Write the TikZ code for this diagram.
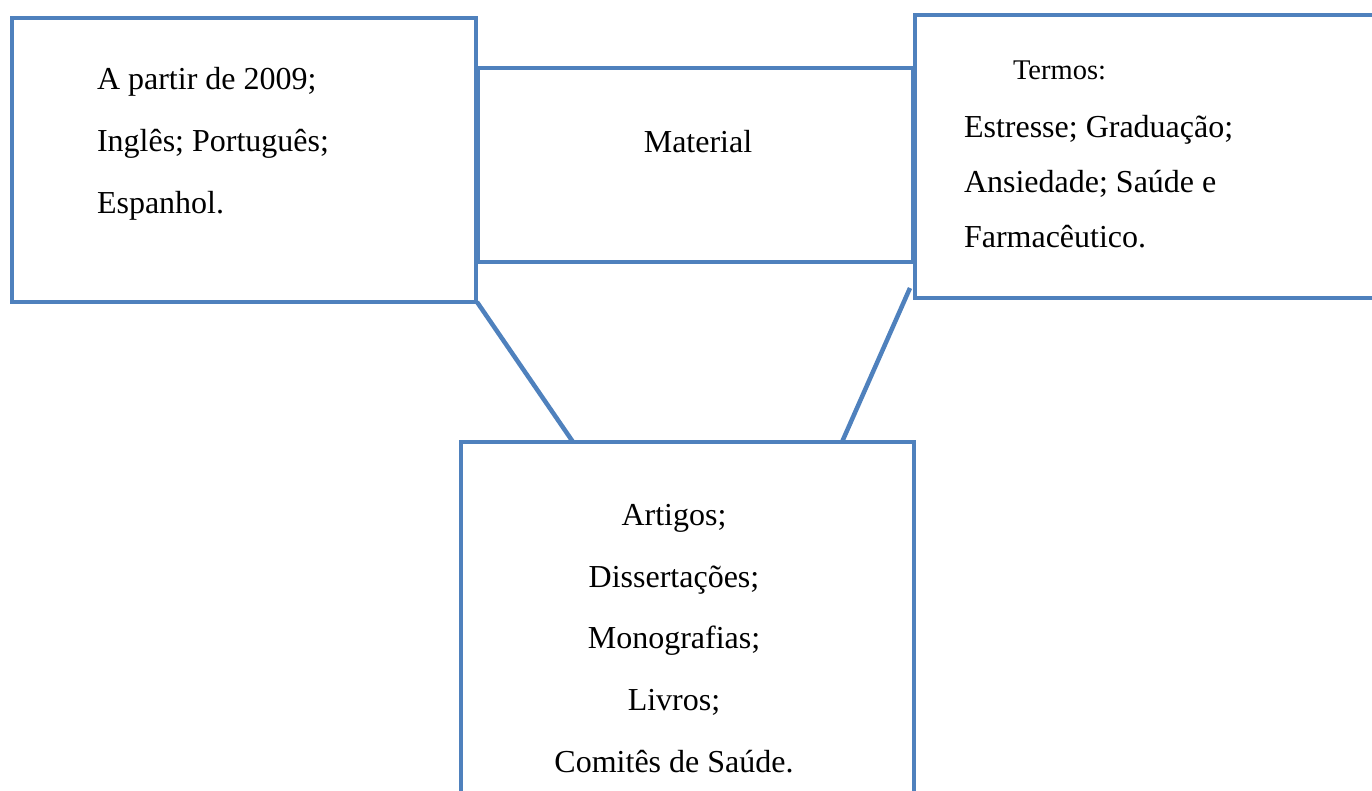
\documentclass[tikz,border=0pt]{standalone}
\usepackage{fontspec}
\setmainfont{Liberation Serif}
\usetikzlibrary{calc}
\definecolor{boxblue}{RGB}{79,129,189}
\begin{document}
\begin{tikzpicture}[x=1pt,y=-1pt,
  box/.style={draw=boxblue, line width=4.5pt, fill=white, rectangle, outer sep=0pt, inner sep=0pt},
  conn/.style={draw=boxblue, line width=4.5pt},
  txt/.style={font=\fontsize{32}{38}\selectfont, inner sep=0pt, outer sep=0pt},
  smalltxt/.style={font=\fontsize{28.5}{34}\selectfont, inner sep=0pt, outer sep=0pt}]
\useasboundingbox (0,0) rectangle (1372,791);
\clip (0,0) rectangle (1372,791);
% boxes
\node[box, minimum width=464pt, minimum height=284pt] (lbox) at (244,160) {};
\node[box, minimum width=435pt, minimum height=194pt] (mbox) at (695.5,165) {};
\node[box, minimum width=475pt, minimum height=283pt] (rbox) at (1152.5,156.5) {};
\node[box, minimum width=453pt, minimum height=378pt] (bbox) at (687.5,631) {};
% connectors
\draw[conn] ($(lbox.south east)+(1,0)$) -- ($(bbox.north west)+(112,0)$);
\draw[conn] ($(rbox.south west)+(-5,-10)$) -- ($(bbox.north west)+(381,0)$);
% left box text
\node[txt, anchor=base west] (l1) at (97,90) {A partir de 2009;};
\node[txt, anchor=base west] (l2) at (97,152) {Inglês; Português;};
\node[txt, anchor=base west] (l3) at (97,214) {Espanhol.};
% material
\node[txt, anchor=base] (m1) at (698,153) {Material};
% right box text
\node[smalltxt, anchor=base west] (r0) at (1013,80) {Termos:};
\node[txt, anchor=base west] (r1) at (964,138) {Estresse; Graduação;};
\node[txt, anchor=base west] (r2) at (964,193) {Ansiedade; Saúde e};
\node[txt, anchor=base west] (r3) at (964,248) {Farmacêutico.};
% bottom box text
\node[txt, anchor=base] (b1) at (674,525) {Artigos;};
\node[txt, anchor=base] (b2) at (674,587) {Dissertações;};
\node[txt, anchor=base] (b3) at (674,648) {Monografias;};
\node[txt, anchor=base] (b4) at (674,710) {Livros;};
\node[txt, anchor=base] (b5) at (674,772) {Comitês de Saúde.};
\end{tikzpicture}
\end{document}
